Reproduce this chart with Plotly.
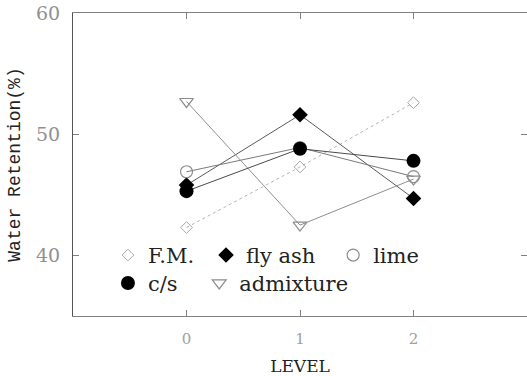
import plotly.graph_objects as go

levels = [0, 1, 2]
level_labels = ["0", "1", "2"]

fm = [42.3, 47.3, 52.6]
fly_ash = [45.8, 51.6, 44.7]
lime = [46.9, 48.9, 46.5]
cs = [45.3, 48.8, 47.8]
admixture = [52.7, 42.5, 46.3]

serif = "DejaVu Serif"

series = [
    # name, values, line colour, line dash, marker style, legend id, legend x, legend y
    ("F.M.", fm, "#b4b4b4", "dot", dict(symbol="diamond-open", size=9, color="#a8a8a8", line=dict(width=1)), "legend", 0.077, 0.20),
    ("fly ash", fly_ash, "#5a5a5a", "solid", dict(symbol="diamond", size=12, color="black"), "legend2", 0.293, 0.20),
    ("lime", lime, "#7a7a7a", "solid", dict(symbol="circle-open", size=12, color="#8c8c8c", line=dict(width=1.2)), "legend3", 0.573, 0.20),
    ("admixture", admixture, "#8e8e8e", "solid", dict(symbol="triangle-down-open", size=12, color="#8c8c8c", line=dict(width=1.2)), "legend4", 0.278, 0.108),
    ("c/s", cs, "#4a4a4a", "solid", dict(symbol="circle", size=14, color="black"), "legend5", 0.077, 0.108),
]

fig = go.Figure()

for name, vals, lc, dash, mk, lg, lx, ly in series:
    fig.add_trace(go.Scatter(
        x=levels, y=vals, mode="lines", showlegend=False, hoverinfo="skip",
        line=dict(color=lc, width=1, dash=dash)))

for name, vals, lc, dash, mk, lg, lx, ly in series:
    fig.add_trace(go.Scatter(
        x=levels, y=vals, name=name, mode="markers", marker=mk, legend=lg))

legend_common = dict(
    orientation="h", xanchor="left", yanchor="middle",
    bgcolor="rgba(0,0,0,0)", borderwidth=0,
    font=dict(family=serif, size=21, color="#222222"),
    itemwidth=30,
)

legends = {}
for name, vals, lc, dash, mk, lg, lx, ly in series:
    legends[lg] = dict(x=lx, y=ly, **legend_common)

fig.update_layout(
    width=527, height=376,
    margin=dict(l=73, r=0, t=13, b=60),
    paper_bgcolor="white", plot_bgcolor="white",
    **legends,
    xaxis=dict(
        range=[-1, 3], tickmode="array", tickvals=levels, ticktext=level_labels,
        showgrid=False, zeroline=False, showline=True, linecolor="#808080", linewidth=1,
        mirror="ticks", ticks="inside", ticklen=6, tickcolor="#808080",
        ticklabelstandoff=9,
        tickfont=dict(family=serif, size=15, color="#a0a0a0"),
        title=dict(text="LEVEL", font=dict(family=serif, size=17, color="#222222"), standoff=16),
    ),
    yaxis=dict(
        range=[35, 60], tickmode="array", tickvals=[40, 50, 60],
        showgrid=False, zeroline=False, showline=True, linecolor="#555555", linewidth=1,
        mirror="ticks", ticks="inside", ticklen=6, tickcolor="#808080",
        ticklabelstandoff=8,
        tickfont=dict(family=serif, size=19, color="#909090"),
        title=dict(text="Water Retention(%)", font=dict(family="Liberation Mono", size=18, color="#222222"), standoff=10),
    ),
)

fig.write_html("out.html")
